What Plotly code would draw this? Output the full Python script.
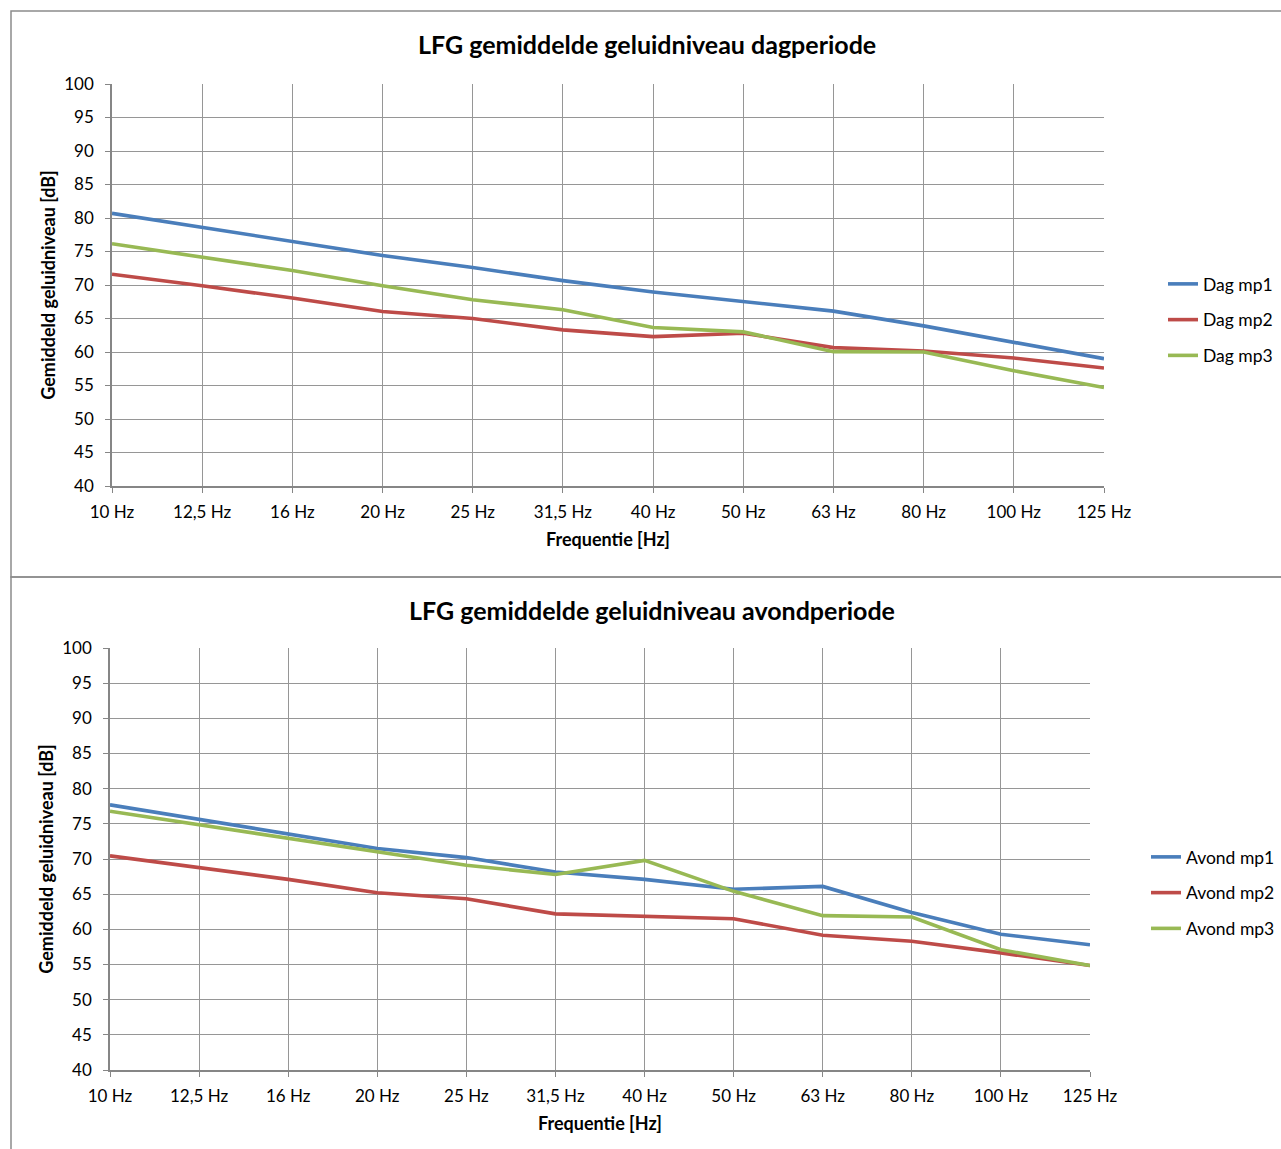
import plotly.graph_objects as go

W, H = 1281, 1149

freqs = ["10 Hz", "12,5 Hz", "16 Hz", "20 Hz", "25 Hz", "31,5 Hz", "40 Hz",
         "50 Hz", "63 Hz", "80 Hz", "100 Hz", "125 Hz"]

dag_mp1 = [80.7, 78.6, 76.6, 74.4, 72.6, 70.65, 68.95, 67.5, 66.1, 63.9, 61.5, 59.0]
dag_mp2 = [71.6, 69.9, 68.05, 66.05, 65.0, 63.3, 62.3, 62.8, 60.65, 60.15, 59.1, 57.6]
dag_mp3 = [76.15, 74.15, 72.15, 69.9, 67.8, 66.3, 63.65, 63.0, 60.05, 60.0, 57.2, 54.7]

avond_mp1 = [77.7, 75.65, 73.65, 71.5, 70.2, 68.15, 67.1, 65.7, 66.1, 62.4, 59.3, 57.8]
avond_mp2 = [70.45, 68.8, 67.1, 65.2, 64.35, 62.2, 61.85, 61.5, 59.15, 58.3, 56.65, 54.85]
avond_mp3 = [76.8, 74.85, 72.95, 71.05, 69.1, 67.8, 69.8, 65.4, 61.95, 61.75, 57.1, 54.85]

colors = ["#4A7EBB", "#BE4B48", "#98B954"]
FONT = "Lato"

def px(x):
    return x / W

def py(y):
    return 1 - y / H

fig = go.Figure()

top_series = [("Dag mp1", dag_mp1), ("Dag mp2", dag_mp2), ("Dag mp3", dag_mp3)]
bot_series = [("Avond mp1", avond_mp1), ("Avond mp2", avond_mp2), ("Avond mp3", avond_mp3)]

for i, (name, vals) in enumerate(top_series):
    fig.add_trace(go.Scatter(x=freqs, y=vals, name=name, mode="lines",
                             line=dict(color=colors[i], width=3.6),
                             xaxis="x", yaxis="y", legend="legend",
                             legendgroup=name))
for i, (name, vals) in enumerate(bot_series):
    fig.add_trace(go.Scatter(x=freqs, y=vals, name=name, mode="lines",
                             line=dict(color=colors[i], width=3.6),
                             xaxis="x2", yaxis="y2", legend="legend2",
                             legendgroup=name))

grid = "#969696"
axline = "#868686"
tickfont = dict(family=FONT, size=17, color="#000000")

def xaxis(domain, anchor):
    return dict(domain=domain, anchor=anchor, type="category", automargin=False,
                range=[0, len(freqs) - 1], showgrid=True, gridcolor=grid,
                gridwidth=1.3, showline=True, linecolor=axline, linewidth=1.6,
                ticks="outside", ticklen=5, tickcolor=axline,
                ticklabelstandoff=5,
                tickfont=tickfont, zeroline=False,
                title=dict(text="<b>Frequentie [Hz]</b>",
                           font=dict(family=FONT, size=18, color="#000"),
                           standoff=12))

def yaxis(domain, anchor):
    return dict(domain=domain, anchor=anchor, range=[40, 100], dtick=5,
                automargin=False, ticklabelstandoff=8,
                showgrid=True, gridcolor=grid, gridwidth=1.3, showline=True,
                linecolor=axline, linewidth=1.6, ticks="outside", ticklen=5,
                tickcolor=axline, tickfont=tickfont, zeroline=False,
                title=dict(text="<b>Gemiddeld geluidniveau [dB]</b>",
                           font=dict(family=FONT, size=18, color="#000"),
                           standoff=4))

legend_common = dict(font=dict(family=FONT, size=17.5, color="#000"),
                     bgcolor="rgba(0,0,0,0)", traceorder="grouped",
                     tracegroupgap=10, xanchor="left", yanchor="middle",
                     itemwidth=30)

fig.update_layout(
    width=W, height=H,
    margin=dict(l=0, r=0, t=0, b=0),
    paper_bgcolor="white", plot_bgcolor="white",
    font=dict(family=FONT, color="#000"),
    xaxis=xaxis([px(112), px(1104)], "y"),
    yaxis=yaxis([py(486), py(84)], "x"),
    xaxis2=xaxis([px(110), px(1090)], "y2"),
    yaxis2=yaxis([py(1070), py(648)], "x2"),
    legend=dict(x=px(1163), y=py(320), **legend_common),
    legend2=dict(x=px(1146), y=py(893), **legend_common),
    annotations=[
        dict(text="<b>LFG gemiddelde geluidniveau dagperiode</b>",
             x=px(647), y=py(44), xref="paper", yref="paper",
             xanchor="center", yanchor="middle",
             showarrow=False, font=dict(family=FONT, size=25, color="#000")),
        dict(text="<b>LFG gemiddelde geluidniveau avondperiode</b>",
             x=px(652), y=py(610), xref="paper", yref="paper",
             xanchor="center", yanchor="middle",
             showarrow=False, font=dict(family=FONT, size=25, color="#000")),
    ],
    shapes=[
        dict(type="rect", xref="paper", yref="paper",
             x0=px(11), x1=px(1300), y0=py(577), y1=py(11),
             line=dict(color="#8c8c8c", width=1.5)),
        dict(type="rect", xref="paper", yref="paper",
             x0=px(11), x1=px(1300), y0=py(1170), y1=py(577),
             line=dict(color="#8c8c8c", width=1.5)),
    ],
)

fig.write_html("out.html")
